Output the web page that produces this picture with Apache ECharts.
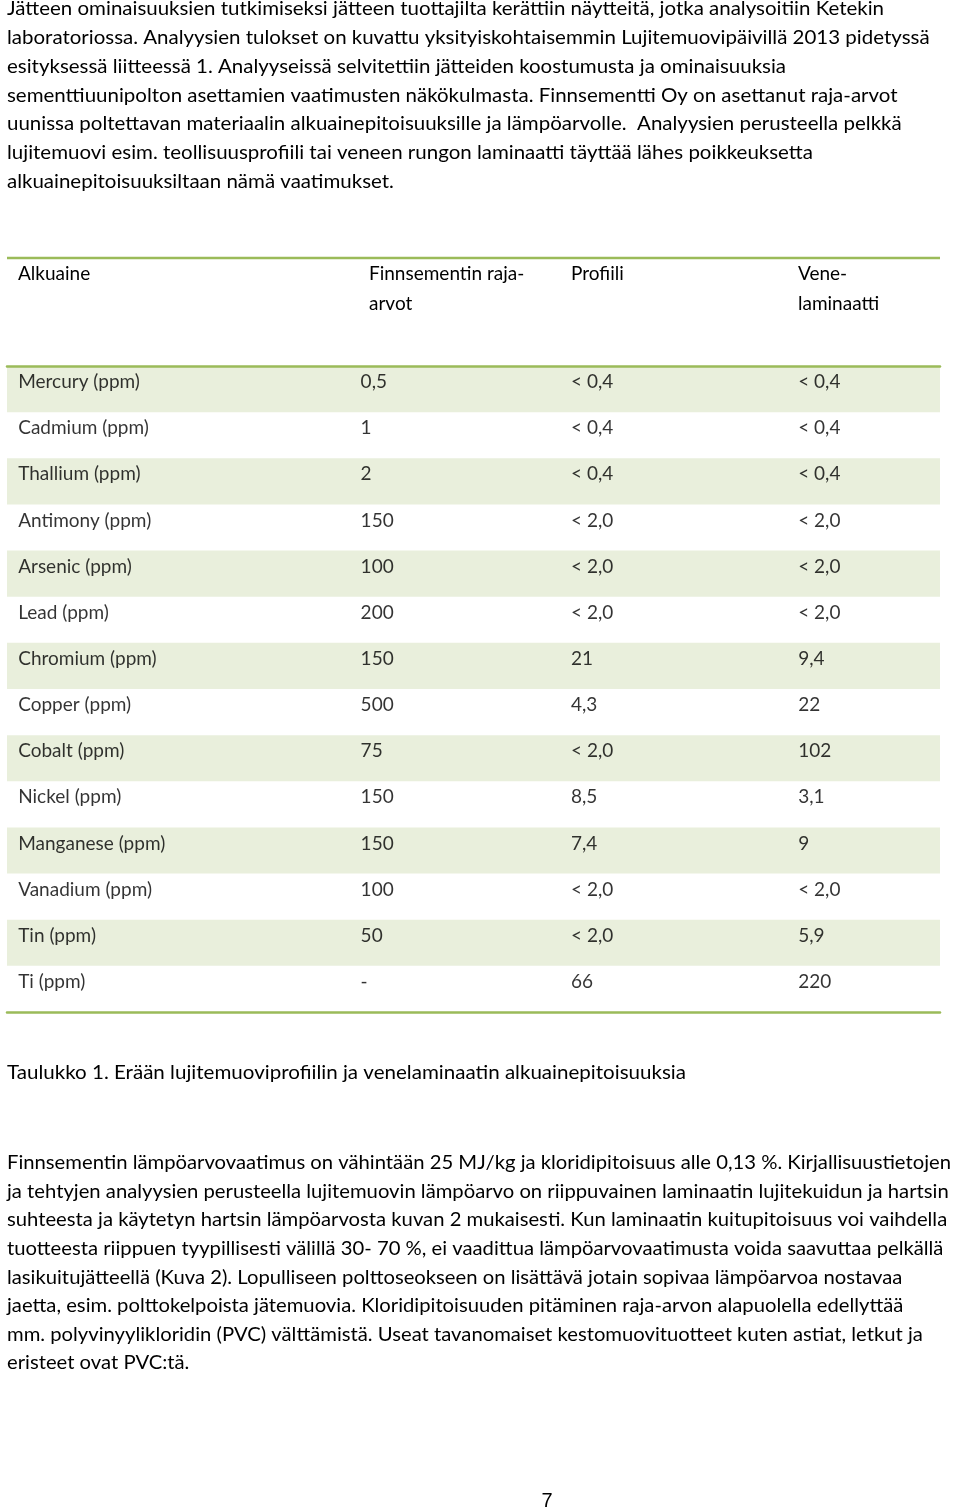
<!DOCTYPE html>
<html>
<head>
<meta charset="utf-8">
<script src="https://cdn.jsdelivr.net/npm/echarts@6/dist/echarts.min.js"></script>
<style>
html,body{margin:0;padding:0;background:#fff;}
#c{width:960px;height:1512px;}
</style>
</head>
<body>
<div id="c"></div>
<script>
// ---- data ----
const elements = ['Mercury (ppm)', 'Cadmium (ppm)', 'Thallium (ppm)', 'Antimony (ppm)', 'Arsenic (ppm)', 'Lead (ppm)', 'Chromium (ppm)', 'Copper (ppm)', 'Cobalt (ppm)', 'Nickel (ppm)', 'Manganese (ppm)', 'Vanadium (ppm)', 'Tin (ppm)', 'Ti (ppm)'];
const limits = ['0,5', '1', '2', '150', '100', '200', '150', '500', '75', '150', '150', '100', '50', '-'];
const profiili = ['< 0,4', '< 0,4', '< 0,4', '< 2,0', '< 2,0', '< 2,0', '21', '4,3', '< 2,0', '8,5', '7,4', '< 2,0', '< 2,0', '66'];
const vene = ['< 0,4', '< 0,4', '< 0,4', '< 2,0', '< 2,0', '< 2,0', '9,4', '22', '102', '3,1', '9', '< 2,0', '5,9', '220'];
const headers = [['Alkuaine'], ['Finnsementin raja-', 'arvot'], ['Profiili'], ['Vene-', 'laminaatti']];

const introLines = [
  'Jätteen ominaisuuksien tutkimiseksi jätteen tuottajilta kerättiin näytteitä, jotka analysoitiin Ketekin',
  'laboratoriossa. Analyysien tulokset on kuvattu yksityiskohtaisemmin Lujitemuovipäivillä 2013 pidetyssä',
  'esityksessä liitteessä 1. Analyyseissä selvitettiin jätteiden koostumusta ja ominaisuuksia',
  'sementtiuunipolton asettamien vaatimusten näkökulmasta. Finnsementti Oy on asettanut raja-arvot',
  'uunissa poltettavan materiaalin alkuainepitoisuuksille ja lämpöarvolle.  Analyysien perusteella pelkkä',
  'lujitemuovi esim. teollisuusprofiili tai veneen rungon laminaatti täyttää lähes poikkeuksetta',
  'alkuainepitoisuuksiltaan nämä vaatimukset.'
];
const caption = 'Taulukko 1. Erään lujitemuoviprofiilin ja venelaminaatin alkuainepitoisuuksia';
const bodyLines = [
  'Finnsementin lämpöarvovaatimus on vähintään 25 MJ/kg ja kloridipitoisuus alle 0,13 %. Kirjallisuustietojen',
  'ja tehtyjen analyysien perusteella lujitemuovin lämpöarvo on riippuvainen laminaatin lujitekuidun ja hartsin',
  'suhteesta ja käytetyn hartsin lämpöarvosta kuvan 2 mukaisesti. Kun laminaatin kuitupitoisuus voi vaihdella',
  'tuotteesta riippuen tyypillisesti välillä 30- 70 %, ei vaadittua lämpöarvovaatimusta voida saavuttaa pelkällä',
  'lasikuitujätteellä (Kuva 2). Lopulliseen polttoseokseen on lisättävä jotain sopivaa lämpöarvoa nostavaa',
  'jaetta, esim. polttokelpoista jätemuovia. Kloridipitoisuuden pitäminen raja-arvon alapuolella edellyttää',
  'mm. polyvinyylikloridin (PVC) välttämistä. Useat tavanomaiset kestomuovituotteet kuten astiat, letkut ja',
  'eristeet ovat PVC:tä.'
];
const pageNumber = '7';

// ---- layout ----
const FONT = 'Lato, "Open Sans", sans-serif';
const GREEN = '#9bbb59';
const SHADE = '#e9efdc';
const colStart = [1.2, 37.9, 60.45, 84.8];   // % of table width where cell text starts
const headerX = [18, 369, 571, 798];

const meas = document.createElement('canvas').getContext('2d');
function width(text, size) { meas.font = size + 'px Lato'; return meas.measureText(text).width; }

const graphics = [];
function paragraph(lines, x, y0, step, size, fitIndex, fitWidth) {
  const sx = fitWidth / width(lines[fitIndex], size);
  lines.forEach((t, i) => {
    graphics.push({
      type: 'text', x: x, y: y0 + i * step, scaleX: sx,
      style: { text: t, font: size + 'px ' + FONT, fill: '#000', verticalAlign: 'middle', textVerticalAlign: 'middle' }
    });
  });
}
paragraph(introLines, 7, 9, 28.83, 19, 0, 877);
paragraph([caption], 7, 1073, 0, 19, 0, 679);
paragraph(bodyLines, 7, 1163, 28.6, 19, 0, 944);
graphics.push({ type: 'text', x: 547, y: 1501, style: { text: pageNumber, font: '20px "Liberation Sans", Arial, sans-serif', fill: '#000', align: 'center', verticalAlign: 'middle', textAlign: 'center', textVerticalAlign: 'middle' } });
// header row
headers.forEach((h, c) => {
  h.forEach((t, k) => {
    graphics.push({ type: 'text', x: headerX[c], y: 274 + k * 30, style: { text: t, font: '19px ' + FONT, fill: '#000', verticalAlign: 'middle', textVerticalAlign: 'middle' } });
  });
});
// top rule of table
graphics.push({ type: 'line', shape: { x1: 7, y1: 258, x2: 940, y2: 258 }, style: { stroke: GREEN, lineWidth: 2.5 } });

// ---- cells ----
const columns = [elements, limits, profiili, vene];
const cellData = [];
columns.forEach((col, c) => col.forEach((t, r) => cellData.push({ value: [colStart[c], r], text: t })));

const chart = echarts.init(document.getElementById('c'), null, { renderer: 'canvas' });
chart.setOption({
  animation: false,
  backgroundColor: '#fff',
  grid: { left: 7, right: 20, top: 366, height: 646, containLabel: false },
  xAxis: [
    { type: 'value', min: 0, max: 100, position: 'bottom', axisLine: { show: true, onZero: false, lineStyle: { color: GREEN, width: 2.5 } }, axisTick: { show: false }, axisLabel: { show: false }, splitLine: { show: false } },
    { type: 'value', min: 0, max: 100, position: 'top', axisLine: { show: true, onZero: false, lineStyle: { color: GREEN, width: 2.5 } }, axisTick: { show: false }, axisLabel: { show: false }, splitLine: { show: false } }
  ],
  yAxis: {
    type: 'category', data: elements, inverse: true, boundaryGap: true,
    axisLine: { show: false }, axisTick: { show: false }, axisLabel: { show: false },
    splitLine: { show: false },
    splitArea: { show: true, interval: 0, areaStyle: { color: [SHADE, 'rgba(255,255,255,0)'] } }
  },
  series: [{
    type: 'scatter', xAxisIndex: 0, symbolSize: 0, silent: true,
    data: cellData,
    label: {
      show: true, position: 'right', distance: 0, offset: [0, -7],
      formatter: p => p.data.text,
      fontFamily: FONT, fontSize: 19, color: '#000'
    }
  }],
  graphic: graphics
});
</script>
</body>
</html>
